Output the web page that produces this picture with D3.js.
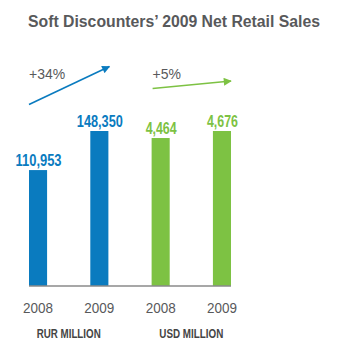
<!DOCTYPE html>
<html><head><meta charset="utf-8">
<script src="https://cdn.jsdelivr.net/npm/d3@7"></script>
<style>html,body{margin:0;padding:0;background:#fff;}</style>
</head><body>
<script>
const title = "Soft Discounters’ 2009 Net Retail Sales";
const years = ["2008", "2009"];
const rurValues = [110953, 148350];
const usdValues = [4464, 4676];
const units = ["RUR MILLION", "USD MILLION"];
const growth = ["+34%", "+5%"];
const colors = ["#0a7bbf", "#7dc243"];

const W = 340, H = 354;
const svg = d3.select("body").append("svg").attr("width", W).attr("height", H);

const groups = [
  {unit: units[0], values: rurValues, color: colors[0], growth: growth[0]},
  {unit: units[1], values: usdValues, color: colors[1], growth: growth[1]}
];
const bars = [];
groups.forEach((g, gi) => years.forEach((yr, i) => bars.push({key: gi + "-" + yr, year: yr, value: g.values[i], g: gi})));

const baseY = 286, topY = 131;
const x = d3.scaleBand().domain(bars.map(d => d.key)).range([29, 231]).paddingInner(0.705).paddingOuter(0);
const yScales = groups.map(g => d3.scaleLinear().domain([0, d3.max(g.values)]).range([baseY, topY]));
const fmt = d3.format(",");

// title
svg.append("text").attr("x", 174).attr("y", 27).attr("text-anchor", "middle")
  .attr("font-family", "Liberation Sans, Arial, sans-serif").attr("font-weight", "bold")
  .attr("font-size", 16).attr("fill", "#58595b")
  .attr("textLength", 292).attr("lengthAdjust", "spacingAndGlyphs").text(title);

// bars
svg.selectAll("rect.bar").data(bars).join("rect").attr("class", "bar")
  .attr("x", d => x(d.key)).attr("width", x.bandwidth())
  .attr("y", d => yScales[d.g](d.value)).attr("height", d => baseY - yScales[d.g](d.value))
  .attr("fill", d => groups[d.g].color);

// value labels
svg.selectAll("text.val").data(bars).join("text").attr("class", "val")
  .attr("x", d => x(d.key) + x.bandwidth() / 2 + 0.5).attr("y", d => yScales[d.g](d.value) - 4)
  .attr("text-anchor", "middle")
  .attr("font-family", "Liberation Sans Narrow, Arial Narrow, Liberation Sans, sans-serif")
  .attr("font-weight", "bold").attr("font-size", 16)
  .attr("fill", d => groups[d.g].color)
  .attr("textLength", d => fmt(d.value).length > 5 ? 46 : 31).attr("lengthAdjust", "spacingAndGlyphs")
  .text(d => fmt(d.value));

// axis baseline
const xAxis = d3.axisBottom(x).tickSize(0).tickFormat(k => k.split("-")[1]).tickPadding(15);
const ax = svg.append("g").attr("transform", `translate(0,${baseY})`).call(xAxis);
ax.select(".domain").attr("stroke", "#8a8a8a").attr("stroke-width", 1.5).attr("d", "M29,0H231");
ax.selectAll(".tick text").attr("font-family", "Liberation Sans Narrow, Arial Narrow, Liberation Sans, sans-serif")
  .attr("font-size", 15).attr("fill", "#58595b").attr("dy", 0).attr("y", 27)
  .attr("textLength", 30).attr("lengthAdjust", "spacingAndGlyphs");

// unit labels
groups.forEach((g, gi) => {
  const k0 = gi + "-" + years[0], k1 = gi + "-" + years[1];
  const cx = (x(k0) + x(k1) + x.bandwidth()) / 2;
  svg.append("text").attr("x", cx).attr("y", 337.5).attr("text-anchor", "middle")
    .attr("font-family", "Liberation Sans Narrow, Arial Narrow, Liberation Sans, sans-serif")
    .attr("font-weight", "bold").attr("font-size", 12).attr("fill", "#444")
    .attr("textLength", 64).attr("lengthAdjust", "spacingAndGlyphs").text(g.unit);
});

// arrows
const defs = svg.append("defs");
groups.forEach((g, gi) => {
  defs.append("marker").attr("id", "ah" + gi).attr("viewBox", "0 0 10 10")
    .attr("refX", 9).attr("refY", 5).attr("markerWidth", 10).attr("markerHeight", 8)
    .attr("markerUnits", "userSpaceOnUse").attr("orient", "auto")
    .append("path").attr("d", "M0,0L10,5L0,10z").attr("fill", g.color);
});
const arrowDefs = [
  {x1: x("0-2008"), y1: 104.5, x2: x("0-2009") + x.bandwidth() + 1, y2: 66.5},
  {x1: x("1-2008") + 1, y1: 88.5, x2: x("1-2009") + x.bandwidth(), y2: 81}
];
arrowDefs.forEach((a, gi) => {
  svg.append("line").attr("x1", a.x1).attr("y1", a.y1).attr("x2", a.x2).attr("y2", a.y2)
    .attr("stroke", groups[gi].color).attr("stroke-width", 1.6).attr("marker-end", `url(#ah${gi})`);
  svg.append("text").attr("x", a.x1).attr("y", 79)
    .attr("font-family", "Liberation Sans, Arial, sans-serif").attr("font-size", 14)
    .attr("fill", "#58595b").text(groups[gi].growth);
});
</script>
</body></html>
